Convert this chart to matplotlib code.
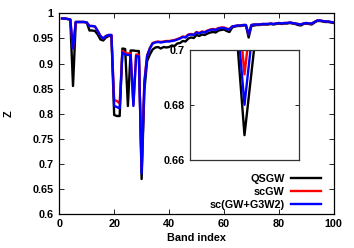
import matplotlib
matplotlib.use('Agg')
import matplotlib.pyplot as plt
import numpy as np

plt.rcParams['font.family'] = ['Liberation Sans', 'DejaVu Sans']
plt.rcParams['font.weight'] = 'bold'
plt.rcParams['font.size'] = 7.8

bands = np.arange(1, 101)

qsgw = [
    0.990, 0.990, 0.989, 0.988, 0.855, 0.983, 0.983, 0.983, 0.983, 0.982,
    0.966, 0.966, 0.965, 0.958, 0.948, 0.946, 0.952, 0.955, 0.955, 0.797,
    0.795, 0.795, 0.930, 0.929, 0.815, 0.926, 0.926, 0.925, 0.925, 0.669,
    0.846, 0.905, 0.918, 0.928, 0.932, 0.933, 0.930, 0.933, 0.932, 0.933,
    0.936, 0.935, 0.940, 0.941, 0.945, 0.944, 0.950, 0.952, 0.951, 0.957,
    0.955, 0.958, 0.957, 0.960, 0.962, 0.963, 0.962, 0.966, 0.967, 0.968,
    0.965, 0.963, 0.972, 0.974, 0.975, 0.975, 0.976, 0.976, 0.952, 0.975,
    0.976, 0.977, 0.977, 0.978, 0.978, 0.978, 0.979, 0.978, 0.979, 0.980,
    0.979, 0.980, 0.980, 0.981, 0.980, 0.979, 0.977, 0.976, 0.979, 0.980,
    0.979, 0.978, 0.982, 0.985, 0.985, 0.984, 0.983, 0.983, 0.982, 0.981,
]

scgw = [
    0.990, 0.990, 0.989, 0.988, 0.930, 0.983, 0.983, 0.983, 0.983, 0.982,
    0.975, 0.975, 0.974, 0.965, 0.955, 0.950, 0.955, 0.957, 0.957, 0.827,
    0.825, 0.820, 0.925, 0.921, 0.920, 0.920, 0.818, 0.918, 0.917, 0.691,
    0.865, 0.916, 0.931, 0.941, 0.943, 0.944, 0.943, 0.944, 0.945, 0.945,
    0.946, 0.947, 0.949, 0.951, 0.954, 0.953, 0.958, 0.959, 0.958, 0.963,
    0.961, 0.964, 0.963, 0.966, 0.968, 0.969, 0.968, 0.971, 0.972, 0.972,
    0.970, 0.969, 0.974, 0.975, 0.976, 0.976, 0.977, 0.977, 0.958, 0.977,
    0.978, 0.978, 0.978, 0.979, 0.979, 0.979, 0.980, 0.979, 0.980, 0.981,
    0.980, 0.981, 0.981, 0.982, 0.981, 0.980, 0.979, 0.978, 0.980, 0.981,
    0.980, 0.980, 0.983, 0.986, 0.986, 0.985, 0.984, 0.984, 0.983, 0.982,
]

sc_g3w2 = [
    0.990, 0.990, 0.989, 0.988, 0.930, 0.983, 0.983, 0.983, 0.983, 0.982,
    0.975, 0.975, 0.974, 0.965, 0.955, 0.950, 0.955, 0.957, 0.957, 0.815,
    0.813, 0.810, 0.922, 0.918, 0.917, 0.917, 0.815, 0.915, 0.914, 0.680,
    0.860, 0.915, 0.930, 0.940, 0.942, 0.943, 0.942, 0.943, 0.944, 0.944,
    0.945, 0.946, 0.948, 0.950, 0.953, 0.952, 0.957, 0.958, 0.957, 0.962,
    0.960, 0.963, 0.962, 0.965, 0.967, 0.968, 0.967, 0.970, 0.971, 0.971,
    0.969, 0.968, 0.974, 0.975, 0.976, 0.976, 0.977, 0.977, 0.958, 0.977,
    0.978, 0.978, 0.978, 0.979, 0.979, 0.979, 0.980, 0.979, 0.980, 0.981,
    0.980, 0.981, 0.981, 0.982, 0.981, 0.980, 0.979, 0.978, 0.980, 0.981,
    0.980, 0.980, 0.983, 0.986, 0.986, 0.985, 0.984, 0.984, 0.983, 0.982,
]

series = [
    (qsgw, 'black', 'QSGW'),
    (scgw, 'red', 'scGW'),
    (sc_g3w2, 'blue', 'sc(GW+G3W2)'),
]

fig = plt.figure(figsize=(3.54, 2.48), dpi=100)
ax = fig.add_axes([0.1675, 0.139, 0.7752, 0.8066])

for vals, col, lab in series:
    ax.plot(bands, vals, color=col, lw=1.7, label=lab)

ax.set_xlim(0, 100)
ax.set_ylim(0.6, 1.0)
ax.set_xticks(np.arange(0, 101, 20))
yt = np.arange(0.6, 1.001, 0.05)
ax.set_yticks(yt)
ax.set_yticklabels(['%g' % round(v, 2) for v in yt])
ax.tick_params(direction='in', top=True, right=True, length=3.5, width=0.6, pad=4)
for s in ax.spines.values():
    s.set_linewidth(0.9)
ax.set_xlabel('Band index', fontweight='bold', labelpad=3)
ax.set_ylabel('Z', fontweight='bold', labelpad=14)

leg = ax.legend(loc='lower right', bbox_to_anchor=(0.955, 0.02), frameon=False,
                markerfirst=False, handlelength=2.8, handletextpad=0.6,
                labelspacing=0.25, borderpad=0, borderaxespad=0)
for t in leg.get_texts():
    t.set_ha('right')

# inset zoom around the deepest dip
ins = fig.add_axes([0.5367, 0.3548, 0.3079, 0.4452])
for vals, col, lab in series:
    ins.plot(bands, vals, color=col, lw=1.7)
ins.set_xlim(29, 31)
ins.set_ylim(0.66, 0.70)
ins.set_xticks([])
ins.set_yticks([0.66, 0.68, 0.70])
ins.set_yticklabels(['0.66', '0.68', '0.7'])
ins.tick_params(direction='in', right=True, length=3, width=0.6, pad=4)
for s in ins.spines.values():
    s.set_linewidth(0.9)
    s.set_color('#333333')

fig.savefig('out.png', dpi=100)
